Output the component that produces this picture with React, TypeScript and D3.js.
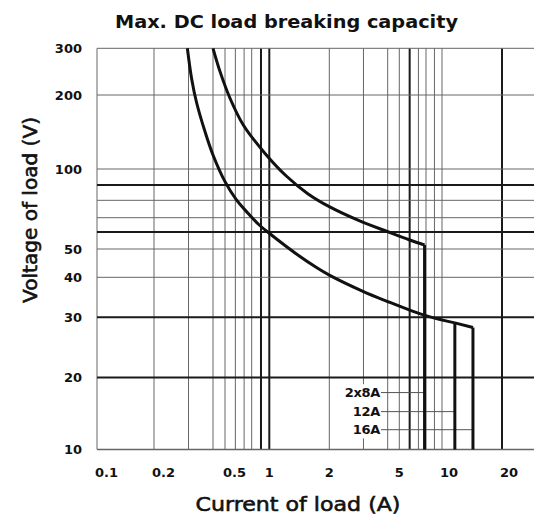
import { useEffect, useRef } from "react";
import * as d3 from "d3";

const title = "Max. DC load breaking capacity";
const xTitle = "Current of load (A)";
const yTitle = "Voltage of load (V)";

// grid printed on the data sheet
const currentGrid = [0.1, 0.2, 0.3, 0.4, 0.5, 0.6, 0.7, 0.8, 0.9, 1, 2, 3, 4, 5, 6, 7, 8, 9, 10, 20];
const currentBold = [0.9, 1, 6, 20];
const currentTicks = [0.1, 0.2, 0.5, 1, 2, 5, 10, 20];
const voltageGrid = [10, 20, 30, 40, 50, 60, 70, 80, 90, 100, 200, 300];
const voltageBold = [20, 30, 60, 90];
const voltageTicks = [10, 20, 30, 40, 50, 100, 200, 300];

// [current A, voltage V]
const curve2x8A: [number, number][] = [
  [0.4, 300], [0.456, 245], [0.546, 194], [0.69, 151], [0.945, 116], [1.217, 95.5],
  [1.56, 84.2], [2.0, 76.2], [2.83, 68], [4.0, 60.2], [6.0, 55.1], [7.8, 52.2],
];
const curve12A: [number, number][] = [
  [0.296, 300], [0.311, 231], [0.33, 186], [0.364, 142], [0.4, 114], [0.5, 92],
  [0.608, 80.6], [0.746, 72.6], [0.869, 65.4], [1.0, 59.2], [1.19, 52.2], [1.414, 47.3],
  [1.68, 43.7], [2.0, 40.7], [3.0, 36.1], [4.0, 33.6], [6.0, 31.6], [8.46, 30.1], [11.6, 28.9],
];
const curve16A: [number, number][] = [[11.6, 28.9], [14.3, 28.0]];

const seriesNames = ["2x8A", "12A", "16A"];
const labelVoltage = [17.3, 14.4, 12.1];
const labelCurrent = 3.65;

const W = 534;
const H = 515;
const font = "DejaVu Sans";
const left = 97;
const top = 48.3;

// the printed log grid is not evenly spaced, so the scales are fitted piece by piece
const xKnots = [0.1, 0.2, 0.4, 0.5, 0.8, 1, 2, 4, 5, 8, 10, 20, 30];
const xAt = [0, 57, 116, 128, 154.7, 172.3, 232.3, 290.7, 302.3, 329, 345, 405, 440];
const yKnots = [10, 20, 30, 40, 50, 70, 90, 100, 200, 300];
const yAt = [401.2, 329.2, 269, 229, 200.7, 169.4, 136.7, 120.7, 46.7, 0];

export default function App() {
  const ref = useRef<SVGSVGElement | null>(null);

  useEffect(() => {
    if (!ref.current) return;
    const svg = d3.select(ref.current);
    svg.selectAll("*").remove();

    const x = d3.scaleLog().domain(xKnots).range(xAt.map((d) => left + d));
    const y = d3.scaleLog().domain(yKnots).range(yAt.map((d) => top + d));
    const xMin = x(0.1);
    const xMax = x(30);

    svg.append("rect").attr("width", W).attr("height", H).attr("fill", "#fff");

    const grid = svg.append("g");
    grid
      .selectAll("line.v")
      .data(currentGrid)
      .join("line")
      .attr("class", "v")
      .attr("x1", (d) => x(d))
      .attr("x2", (d) => x(d))
      .attr("y1", y(300))
      .attr("y2", y(10))
      .attr("stroke", (d) => (currentBold.includes(d) ? "#1a1a1a" : "#666"))
      .attr("stroke-width", (d) => (currentBold.includes(d) ? 2 : 1));
    grid
      .selectAll("line.h")
      .data(voltageGrid)
      .join("line")
      .attr("class", "h")
      .attr("x1", xMin)
      .attr("x2", xMax)
      .attr("y1", (d) => y(d))
      .attr("y2", (d) => y(d))
      .attr("stroke", (d) => (voltageBold.includes(d) ? "#1a1a1a" : "#666"))
      .attr("stroke-width", (d) => (voltageBold.includes(d) ? 2 : d === 10 ? 1.4 : 1));

    // series labels with white box and leader lines
    const bg = svg.append("rect").attr("fill", "#fff");
    const leaders = svg.append("g").attr("stroke", "#555").attr("stroke-width", 1);
    const labels = svg
      .append("g")
      .attr("font-family", font)
      .attr("font-weight", "bold")
      .attr("font-size", 13)
      .attr("letter-spacing", -0.3)
      .attr("fill", "#111")
      .attr("text-anchor", "end");
    const texts = labels
      .selectAll("text")
      .data(seriesNames)
      .join("text")
      .attr("x", x(labelCurrent))
      .attr("y", (d, i) => y(labelVoltage[i]))
      .attr("dy", "0.36em")
      .text((d) => d);
    const boxes = (texts.nodes() as SVGTextElement[]).map((n) => n.getBBox());
    const bx0 = d3.min(boxes, (b) => b.x)! - 2;
    const by0 = d3.min(boxes, (b) => b.y)! - 1;
    const bx1 = d3.max(boxes, (b) => b.x + b.width)! + 1;
    const by1 = d3.max(boxes, (b) => b.y + b.height)! + 1;
    bg.attr("x", bx0).attr("y", by0).attr("width", bx1 - bx0).attr("height", by1 - by0);

    const knees = [curve2x8A[curve2x8A.length - 1], curve12A[curve12A.length - 1], curve16A[curve16A.length - 1]];
    leaders
      .selectAll("line")
      .data(seriesNames)
      .join("line")
      .attr("x1", x(labelCurrent) + 1)
      .attr("x2", (d, i) => x(knees[i][0]))
      .attr("y1", (d, i) => y(labelVoltage[i]))
      .attr("y2", (d, i) => y(labelVoltage[i]));

    // curves
    const smooth = d3
      .line<[number, number]>()
      .x((d) => x(d[0]))
      .y((d) => y(d[1]))
      .curve(d3.curveCatmullRom.alpha(0.5));
    const straight = d3
      .line<[number, number]>()
      .x((d) => x(d[0]))
      .y((d) => y(d[1]));
    const curves = svg
      .append("g")
      .attr("fill", "none")
      .attr("stroke", "#111")
      .attr("stroke-width", 3)
      .attr("stroke-linejoin", "round");
    curves.append("path").attr("d", smooth(curve2x8A));
    curves.append("path").attr("d", smooth(curve12A));
    curves.append("path").attr("d", straight(curve16A));
    curves
      .selectAll("path.drop")
      .data(knees)
      .join("path")
      .attr("class", "drop")
      .attr("d", (d) => straight([d, [d[0], 10]]));

    // tick labels
    const tickText = svg
      .append("g")
      .attr("font-family", font)
      .attr("font-weight", "bold")
      .attr("font-size", 13)
      .attr("fill", "#111");
    tickText
      .selectAll("text.x")
      .data(currentTicks)
      .join("text")
      .attr("class", "x")
      .attr("x", (d) => x(d) + (String(d).length > 1 ? -2 : 0))
      .attr("y", 477)
      .attr("text-anchor", (d) => (String(d).length > 1 ? "start" : "middle"))
      .text((d) => String(d));
    tickText
      .selectAll("text.y")
      .data(voltageTicks)
      .join("text")
      .attr("class", "y")
      .attr("x", 82)
      .attr("y", (d) => y(d))
      .attr("dy", "0.36em")
      .attr("text-anchor", "end")
      .text((d) => String(d));

    svg
      .append("text")
      .attr("x", 286.5)
      .attr("y", 28)
      .attr("text-anchor", "middle")
      .attr("font-family", font)
      .attr("font-weight", "bold")
      .attr("font-size", 18)
      .attr("textLength", 343)
      .attr("lengthAdjust", "spacingAndGlyphs")
      .attr("fill", "#111")
      .text(title);

    svg
      .append("text")
      .attr("x", 298)
      .attr("y", 511)
      .attr("text-anchor", "middle")
      .attr("font-family", font)
      .attr("font-size", 20)
      .attr("textLength", 205)
      .attr("lengthAdjust", "spacingAndGlyphs")
      .attr("fill", "#111")
      .attr("stroke", "#111")
      .attr("stroke-width", 0.6)
      .text(xTitle);

    svg
      .append("text")
      .attr("transform", "translate(37,210) rotate(-90)")
      .attr("text-anchor", "middle")
      .attr("font-family", font)
      .attr("font-size", 20)
      .attr("textLength", 186)
      .attr("lengthAdjust", "spacingAndGlyphs")
      .attr("fill", "#111")
      .attr("stroke", "#111")
      .attr("stroke-width", 0.6)
      .text(yTitle);
  }, []);

  return (
    <svg
      ref={ref}
      width={W}
      height={H}
      style={{ position: "absolute", left: 0, top: 0, display: "block" }}
    />
  );
}
